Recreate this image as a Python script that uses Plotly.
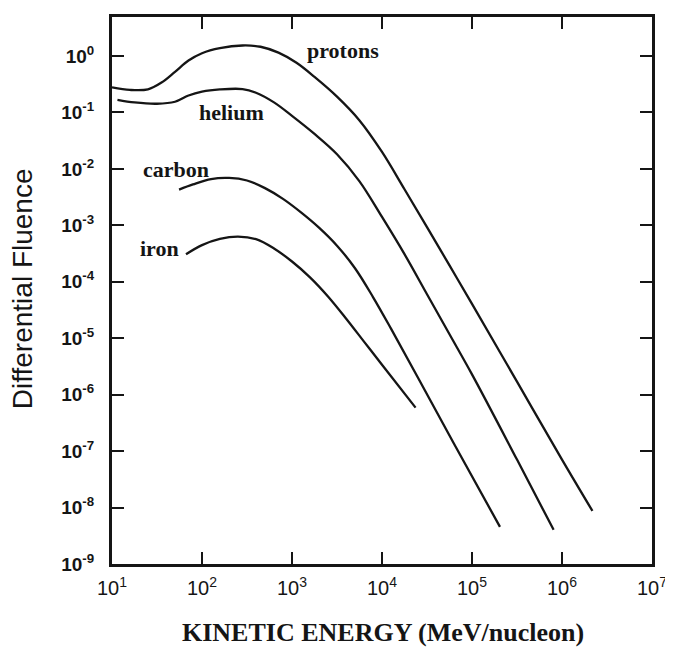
import math
import plotly.graph_objects as go

# ---- data ----
proton_E = [10, 15.85, 25.1, 35.5, 50.1, 70.8, 100, 158, 282, 447, 708, 1122, 1778, 3162,
            5623, 10000, 17780, 31620, 56230, 1.0e5, 3.162e5, 1.0e6, 2.18e6]
proton_F = [0.279, 0.251, 0.257, 0.339, 0.525, 0.832, 1.122, 1.380, 1.538, 1.462, 1.148,
            0.759, 0.427, 0.191, 0.0724, 0.0200, 4.37e-3, 9.33e-4, 1.95e-4, 4.07e-5,
            1.70e-6, 7.08e-8, 8.71e-9]

helium_E = [11.5, 17.8, 31.6, 50.1, 70.8, 100, 158, 282, 398, 631, 1000, 1778, 3162, 5623,
            10000, 17780, 31620, 56230, 1.0e5, 3.162e5, 8.07e5]
helium_F = [0.168, 0.151, 0.143, 0.155, 0.200, 0.234, 0.256, 0.260, 0.224, 0.151, 0.0871,
            0.0417, 0.0182, 6.03e-3, 1.41e-3, 3.09e-4, 6.03e-5, 1.175e-5, 2.29e-6, 7.08e-8,
            4.03e-9]

carbon_E = [55.6, 79.4, 126, 200, 316, 501, 794, 1259, 1995, 3162, 5012, 7943, 12590, 25120,
            63100, 204600]
carbon_F = [4.30e-3, 5.31e-3, 6.61e-3, 6.92e-3, 6.24e-3, 4.57e-3, 2.95e-3, 1.70e-3, 9.12e-4,
            4.37e-4, 1.74e-4, 5.37e-5, 1.48e-5, 2.0e-6, 1.35e-7, 4.55e-9]

iron_E = [66.4, 100, 158, 251, 398, 631, 1000, 1585, 2512, 3981, 6310, 10000, 23600]
iron_F = [3.08e-4, 4.47e-4, 5.75e-4, 6.31e-4, 5.69e-4, 3.89e-4, 2.29e-4, 1.20e-4, 5.50e-5,
          2.24e-5, 8.71e-6, 3.39e-6, 5.89e-7]

series_names = ["protons", "helium", "carbon", "iron"]
series_E = [proton_E, helium_E, carbon_E, iron_E]
series_F = [proton_F, helium_F, carbon_F, iron_F]

# label anchor points (energy, fluence) for curve names
label_E = [3680, 214, 51.5, 33.4]
label_F = [1.24, 0.1, 0.0099, 3.9e-4]

x_tickvals = [1e1, 1e2, 1e3, 1e4, 1e5, 1e6, 1e7]
x_ticktext = ["10<sup>1</sup>", "10<sup>2</sup>", "10<sup>3</sup>", "10<sup>4</sup>",
              "10<sup>5</sup>", "10<sup>6</sup>", "10<sup>7</sup>"]
y_tickvals = [1e0, 1e-1, 1e-2, 1e-3, 1e-4, 1e-5, 1e-6, 1e-7, 1e-8, 1e-9]
y_ticktext = ["<b>10<sup>0</sup></b>", "<b>10<sup>-1</sup></b>", "<b>10<sup>-2</sup></b>",
              "<b>10<sup>-3</sup></b>", "<b>10<sup>-4</sup></b>", "<b>10<sup>-5</sup></b>",
              "<b>10<sup>-6</sup></b>", "<b>10<sup>-7</sup></b>", "<b>10<sup>-8</sup></b>",
              "<b>10<sup>-9</sup></b>"]

INK = "#151515"
SANS = "Liberation Sans, Arial, sans-serif"
SERIF = "Liberation Serif, Times New Roman, serif"

fig = go.Figure()
for name, E, F in zip(series_names, series_E, series_F):
    fig.add_trace(go.Scatter(
        x=E, y=F, mode="lines", name=name,
        line=dict(color=INK, width=2.3, shape="spline", smoothing=1.0),
        showlegend=False,
    ))

for name, E, F in zip(series_names, label_E, label_F):
    fig.add_annotation(
        x=math.log10(E), y=math.log10(F), xref="x", yref="y",
        xanchor="center", yanchor="middle",
        text="<b>" + name + "</b>", showarrow=False,
        font=dict(family=SERIF, size=22, color=INK),
    )

fig.add_annotation(
    x=-0.166, y=0.503, xref="paper", yref="paper", textangle=-90,
    xanchor="center", yanchor="middle",
    text="Differential Fluence", showarrow=False,
    font=dict(family=SANS, size=28, color=INK),
)
fig.add_annotation(
    x=0.502, y=-0.126, xref="paper", yref="paper",
    xanchor="center", yanchor="middle",
    text="<b>KINETIC ENERGY (MeV/nucleon)</b>", showarrow=False,
    font=dict(family=SERIF, size=26, color=INK),
)

axis_common = dict(
    type="log", showgrid=False, zeroline=False,
    showline=True, linewidth=3, linecolor=INK, mirror="ticks",
    ticks="inside", ticklen=12, tickwidth=2, tickcolor=INK,
)

# page body has an 8px margin, so the figure is sized/offset to compensate
fig.update_layout(
    width=665, height=641,
    margin=dict(l=104, r=17, t=6, b=85),
    paper_bgcolor="white", plot_bgcolor="white",
    xaxis=dict(range=[1, 7], tickvals=x_tickvals, ticktext=x_ticktext,
               tickfont=dict(family=SANS, size=20, color=INK),
               ticklabelstandoff=4, **axis_common),
    yaxis=dict(range=[-9, 0.692], tickvals=y_tickvals, ticktext=y_ticktext,
               tickfont=dict(family=SANS, size=19, color=INK),
               ticklabelstandoff=11, **axis_common),
)

fig.write_html("out.html")
